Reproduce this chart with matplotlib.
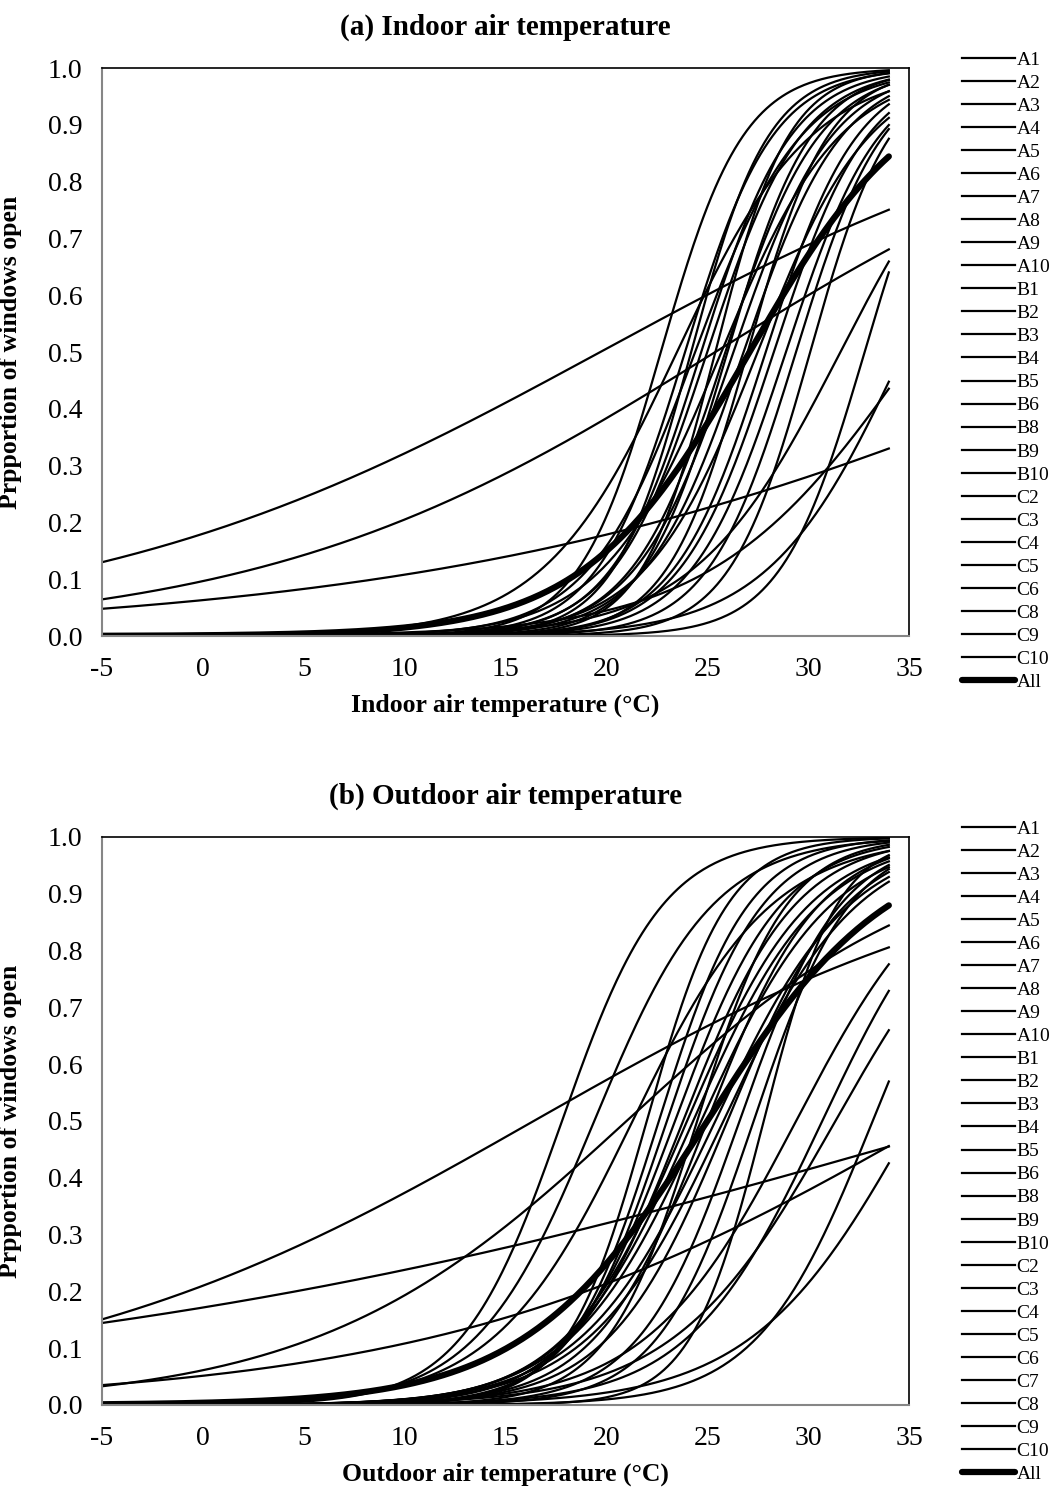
import numpy as np
import matplotlib
matplotlib.use("Agg")
import matplotlib.pyplot as plt

plt.rcParams['font.family'] = ['Liberation Serif', 'DejaVu Serif']
plt.rcParams['axes.unicode_minus'] = False

# Logit fits per building: P(open) = 1 / (1 + exp(-slope * (T - t50)))
# t50 = temperature (degC) at which half the windows are open
indoor_sites = ["A1", "A2", "A3", "A4", "A5", "A6", "A7", "A8", "A9", "A10",
                "B1", "B2", "B3", "B4", "B5", "B6", "B8", "B9", "B10",
                "C2", "C3", "C4", "C5", "C6", "C8", "C9", "C10"]
indoor_t50 = [22.7, 19.7, 23.9, 24.7, 25.4, 25.0, 23.5, 25.9, 46.1, 26.3,
              26.8, 24.2, 27.9, 34.7, 28.3, 25.4, 28.9, 30.1, 31.6,
              24.4, 32.8, 26.0, 35.3, 27.0, 25.7, 27.5, 29.4]
indoor_slope = [0.49, 0.077, 0.46, 0.45, 0.088, 0.43, 0.30, 0.43, 0.0585, 0.41,
                0.41, 0.52, 0.44, 0.30, 0.43, 0.55, 0.43, 0.50, 0.275,
                0.38, 0.48, 0.48, 0.20, 0.50, 0.34, 0.36, 0.46]
indoor_all_t50 = 27.1
indoor_all_slope = 0.245

outdoor_sites = ["A1", "A2", "A3", "A4", "A5", "A6", "A7", "A8", "A9", "A10",
                 "B1", "B2", "B3", "B4", "B5", "B6", "B8", "B9", "B10",
                 "C2", "C3", "C4", "C5", "C6", "C7", "C8", "C9", "C10"]
outdoor_t50 = [17.8, 16.4, 19.4, 38.4, 21.3, 22.6, 36.2, 23.0, 23.4, 21.0,
               23.8, 24.0, 24.3, 29.4, 24.7, 25.0, 30.7, 31.35, 33.2,
               35.2, 25.4, 26.0, 26.6, 27.3, 22.0, 24.5, 25.8, 27.8]
outdoor_slope = [0.40, 0.0808, 0.34, 0.041, 0.29, 0.45, 0.0805, 0.42, 0.38, 0.13,
                 0.36, 0.33, 0.32, 0.27, 0.31, 0.36, 0.30, 0.25, 0.35,
                 0.25, 0.30, 0.34, 0.40, 0.42, 0.50, 0.45, 0.30, 0.55]
outdoor_all_t50 = 25.0
outdoor_all_slope = 0.221

t_lo, t_hi = -5, 34


def logit_curve(t, t50, slope):
    return 1.0 / (1.0 + np.exp(-slope * (t - t50)))


def draw_panel(ax, sites, t50s, slopes, all_t50, all_slope, title, xlabel):
    t = np.linspace(t_lo, t_hi, 400)
    for name, m, k in zip(sites, t50s, slopes):
        ax.plot(t, logit_curve(t, m, k), color="black", lw=1.6, label=name)
    ax.plot(t, logit_curve(t, all_t50, all_slope), color="black", lw=4.5,
            solid_capstyle="round", label="All")

    ax.set_xlim(-5, 35)
    ax.set_ylim(0, 1)
    ax.set_xticks(np.arange(-5, 36, 5))
    ax.set_yticks(np.arange(0, 1.01, 0.1))
    ax.set_yticklabels(["%.1f" % v for v in np.arange(0, 1.01, 0.1)])
    ax.tick_params(length=0, labelsize=20)
    ax.tick_params(axis="x", pad=15)
    ax.tick_params(axis="y", pad=14)
    for s in ("left", "bottom"):
        ax.spines[s].set_color("#868686")
        ax.spines[s].set_linewidth(1.5)
    for s in ("top", "right"):
        ax.spines[s].set_color("black")
        ax.spines[s].set_linewidth(1.2)

    ax.set_title(title, fontsize=21, fontweight="bold", pad=24)
    ax.set_xlabel(xlabel, fontsize=18.5, fontweight="bold", va="center")
    ax.xaxis.set_label_coords(0.5, -69 / 568)
    ax.set_ylabel("Prpportion of windows open", fontsize=18.5, fontweight="bold")
    ax.yaxis.set_label_coords(-0.099, 0.5)

    ax.legend(loc="upper left", bbox_to_anchor=(1.066, 1.03), frameon=False,
              fontsize=14, handlelength=2.7, handletextpad=0.1,
              labelspacing=0.28, borderpad=0, borderaxespad=0)


fig = plt.figure(figsize=(10.61, 14.90), dpi=100)
ax_a = fig.add_axes([102 / 1061, 1 - 636 / 1490, 807 / 1061, 568 / 1490])
ax_b = fig.add_axes([102 / 1061, 1 - 1405 / 1490, 807 / 1061, 568 / 1490])

draw_panel(ax_a, indoor_sites, indoor_t50, indoor_slope,
           indoor_all_t50, indoor_all_slope,
           "(a) Indoor air temperature", "Indoor air temperature (\u00b0C)")
draw_panel(ax_b, outdoor_sites, outdoor_t50, outdoor_slope,
           outdoor_all_t50, outdoor_all_slope,
           "(b) Outdoor air temperature", "Outdoor air temperature (\u00b0C)")

fig.savefig("out.png", dpi=100)
